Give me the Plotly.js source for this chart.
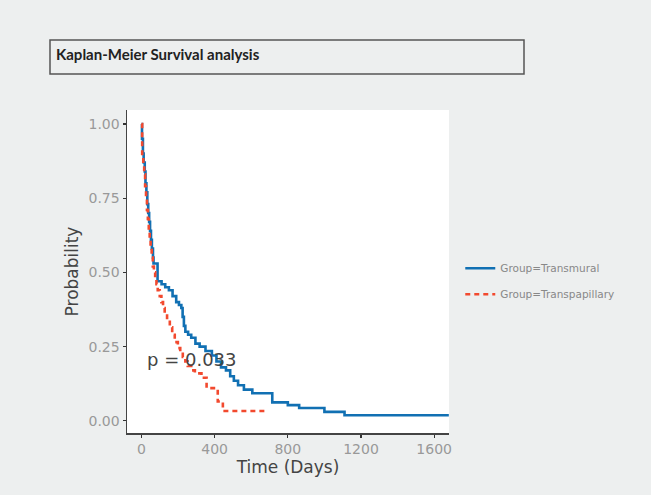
<!DOCTYPE html>
<html>
<head>
<meta charset="utf-8">
<script src="https://cdn.plot.ly/plotly-3.0.1.min.js"></script>
<style>html,body{margin:0;padding:0;background:#edefef;}#chart{width:651px;height:495px;}</style>
</head>
<body>
<div id="chart"></div>
<script>
// Kaplan-Meier step data (time in days, survival probability)
const transmuralTime = [0,3,8,12,18,22,27,32,37,42,47,52,57,63,66,88,110,130,150,170,190,205,218,225,232,240,255,272,295,318,350,385,410,435,462,485,505,528,560,606,715,800,862,1000,1110,1680];
const transmuralSurv = [1.0,0.95,0.90,0.87,0.84,0.80,0.77,0.73,0.70,0.67,0.64,0.61,0.58,0.55,0.53,0.47,0.46,0.45,0.44,0.42,0.40,0.39,0.38,0.35,0.32,0.30,0.29,0.28,0.26,0.25,0.235,0.22,0.20,0.18,0.17,0.15,0.135,0.12,0.105,0.093,0.062,0.053,0.043,0.030,0.019,0.019];

const transpapillaryTime = [0,4,10,15,20,25,30,35,40,45,50,56,62,68,75,82,89,100,109,118,127,140,155,168,182,199,212,226,240,253,272,292,328,356,417,445,690];
const transpapillarySurv = [1.0,0.89,0.86,0.83,0.79,0.75,0.71,0.68,0.64,0.61,0.58,0.55,0.52,0.50,0.48,0.46,0.44,0.42,0.40,0.38,0.36,0.34,0.315,0.29,0.265,0.245,0.23,0.215,0.20,0.185,0.17,0.16,0.145,0.11,0.065,0.033,0.033];

const xTicks = [0,400,800,1200,1600];
const yTicks = [0,0.25,0.5,0.75,1];
const yTickText = ["0.00","0.25","0.50","0.75","1.00"];
const pValueText = "p = 0.033";

const traces = [
  {x: transmuralTime, y: transmuralSurv, type:'scatter', mode:'lines', line:{shape:'hv', color:'#1170b3', width:2.6},
   name:'Group=Transmural', legendgroup:'a'},
  {x: transpapillaryTime, y: transpapillarySurv, type:'scatter', mode:'lines', line:{shape:'hv', color:'#f2492e', width:2.6, dash:'5px,4px'},
   name:'Group=Transpapillary', legendgroup:'b'}
];

const layout = {
  width:651, height:495,
  paper_bgcolor:'#edefef', plot_bgcolor:'#ffffff',
  margin:{l:127, r:202, t:110, b:62, pad:0},
  font:{family:'DejaVu Sans, sans-serif'},
  title:{text:'<b>Kaplan-Meier Survival analysis</b>', x:56/651, xanchor:'left', xref:'container', y:1-55/495, yanchor:'middle', yref:'container',
         font:{family:'Lato, Open Sans, sans-serif', size:15, color:'#222'}},
  xaxis:{range:[-79,1681], tickvals:xTicks, ticktext:xTicks.map(String), showgrid:false, zeroline:false,
         showline:true, linecolor:'#444', linewidth:1.5, ticks:'outside', ticklen:3, tickcolor:'#333', tickwidth:1.2,
         tickfont:{size:14, color:'#999'}, title:{text:'Time (Days)', font:{size:17, color:'#444'}, standoff:4}},
  yaxis:{range:[-0.041,1.047], tickvals:yTicks, ticktext:yTickText, showgrid:false, zeroline:false,
         showline:true, linecolor:'#444', linewidth:1.5, ticks:'outside', ticklen:3, tickcolor:'#333', tickwidth:1.2,
         tickfont:{size:14, color:'#999'}, title:{text:'Probability', font:{size:17, color:'#444'}, standoff:5}},
  showlegend:true,
  legend:{x:1.035, xanchor:'left', y:0.47, yanchor:'middle', font:{size:10.5, color:'#888'}, bgcolor:'rgba(0,0,0,0)',
          tracegroupgap:7, itemwidth:30},
  annotations:[{x:275, y:0.205, xref:'x', yref:'y', text:pValueText, showarrow:false, font:{size:18, color:'#444'}}],
  shapes:[{type:'rect', xref:'paper', yref:'paper', x0:(50-127)/322, x1:(524-127)/322, y0:(433-74)/323, y1:(433-40)/323,
           line:{color:'#555', width:1.5}, fillcolor:'rgba(0,0,0,0)', layer:'above'}]
};

Plotly.newPlot('chart', traces, layout, {displayModeBar:false, staticPlot:true});
</script>
</body>
</html>
